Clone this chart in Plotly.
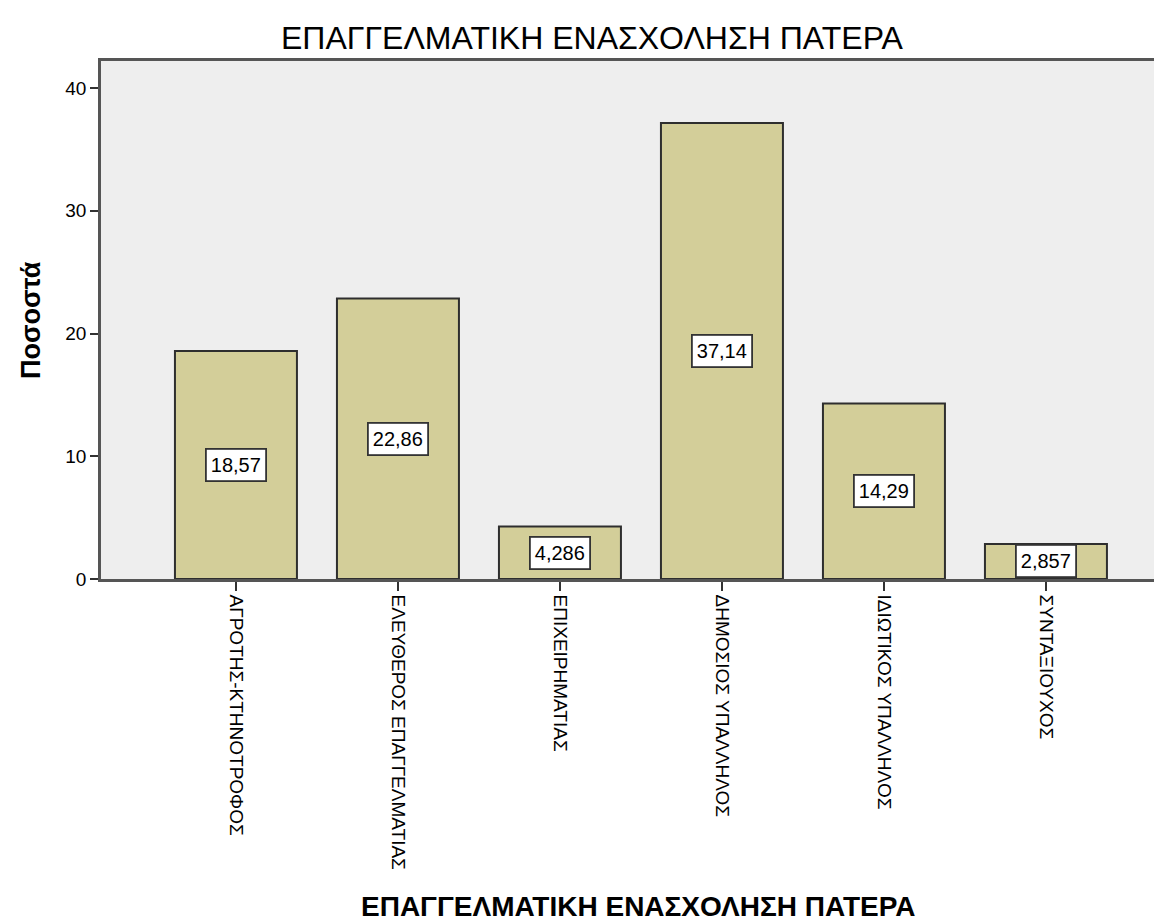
import plotly.graph_objects as go

categories = ["ΑΓΡΟΤΗΣ-ΚΤΗΝΟΤΡΟΦΟΣ", "ΕΛΕΥΘΕΡΟΣ ΕΠΑΓΓΕΛΜΑΤΙΑΣ", "ΕΠΙΧΕΙΡΗΜΑΤΙΑΣ",
              "ΔΗΜΟΣΙΟΣ ΥΠΑΛΛΗΛΟΣ", "ΙΔΙΩΤΙΚΟΣ ΥΠΑΛΛΗΛΟΣ", "ΣΥΝΤΑΞΙΟΥΧΟΣ"]
values = [18.57, 22.86, 4.286, 37.14, 14.29, 2.857]
value_labels = ["18,57", "22,86", "4,286", "37,14", "14,29", "2,857"]
ytick_vals = [0, 10, 20, 30, 40]

FONT = "Liberation Sans, Arial, sans-serif"
W, H = 1162, 920
L, T, B = 93, 53, 349
PW, PH = W - L, H - T - B


def px_x(px):
    return (px - L) / PW


def px_y(py):
    return (H - B - py) / PH


fig = go.Figure()
fig.add_trace(go.Bar(
    x=list(range(len(categories))), y=values,
    marker=dict(color="#D3CE99", line=dict(color="#2E2E2E", width=2)),
    hoverinfo="skip",
))

for i, (v, lab) in enumerate(zip(values, value_labels)):
    fig.add_annotation(x=i, y=v / 2, xref="x", yref="y", text=lab, showarrow=False,
                       font=dict(family=FONT, size=20, color="black"),
                       bgcolor="white", bordercolor="#333333", borderwidth=1.8, borderpad=4)

fig.add_annotation(text="ΕΠΑΓΓΕΛΜΑΤΙΚΗ ΕΝΑΣΧΟΛΗΣΗ ΠΑΤΕΡΑ", xref="paper", yref="paper",
                   x=px_x(584), y=px_y(30), showarrow=False,
                   font=dict(family=FONT, size=32, color="black"),
                   xanchor="center", yanchor="middle")
fig.add_annotation(text="<b>ΕΠΑΓΓΕΛΜΑΤΙΚΗ ΕΝΑΣΧΟΛΗΣΗ ΠΑΤΕΡΑ</b>", xref="paper", yref="paper",
                   x=px_x(630), y=px_y(898), showarrow=False,
                   font=dict(family=FONT, size=28, color="black"),
                   xanchor="center", yanchor="middle")
fig.add_annotation(text="<b>Ποσοστά</b>", xref="paper", yref="paper",
                   x=px_x(23), y=px_y(312), showarrow=False, textangle=-90,
                   font=dict(family=FONT, size=27, color="black"),
                   xanchor="center", yanchor="middle")

fig.update_layout(
    width=W, height=H,
    margin=dict(l=L, r=0, t=T, b=B, pad=0),
    paper_bgcolor="white", plot_bgcolor="#EEEEEE",
    bargap=0.247, showlegend=False,
    xaxis=dict(range=[-0.833, -0.833 + PW / 162], tickmode="array",
               tickvals=list(range(len(categories))), ticktext=categories,
               tickangle=90, ticks="outside", ticklen=9, tickwidth=2, tickcolor="#333333",
               showline=True, linecolor="#555555", linewidth=2.5, mirror=True,
               showgrid=False, zeroline=False,
               tickfont=dict(family=FONT, size=19, color="black")),
    yaxis=dict(range=[0, PH / 12.275], tickmode="array", tickvals=ytick_vals,
               ticks="outside", ticklen=8, tickwidth=2, tickcolor="#333333",
               showline=True, linecolor="#555555", linewidth=2.5,
               showgrid=False, zeroline=False,
               tickfont=dict(family=FONT, size=19, color="black")),
)

fig.write_html("out.html")
